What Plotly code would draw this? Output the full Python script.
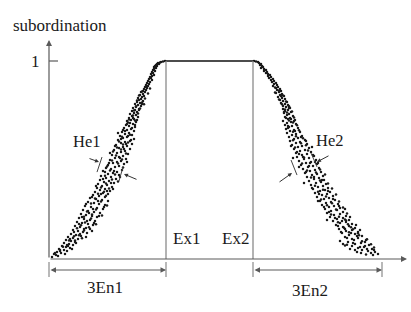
import plotly.graph_objects as go

# ---- data (x in abstract units, membership "subordination" in 0..1) ----
EX1, EX2 = 117, 204          # expectations
EN1, EN2 = 39, 43            # entropies (3En marked below the axis)

left_drops = [
    (116, 1.000), (114, 0.997), (112, 0.995), (111, 0.992), (109, 0.990), (110, 0.985), (108, 0.985),
    (107, 0.980), (108, 0.975), (106, 0.975), (105, 0.970), (107, 0.965), (105, 0.960), (104, 0.955),
    (106, 0.949), (103, 0.944), (104, 0.939), (102, 0.934), (105, 0.929), (103, 0.924), (101, 0.919),
    (102, 0.914), (100, 0.909), (103, 0.904), (99, 0.899), (101, 0.894), (98, 0.889), (100, 0.884),
    (97, 0.879), (99, 0.874), (96, 0.869), (98, 0.864), (95, 0.859), (97, 0.854), (94, 0.848),
    (96, 0.843), (92, 0.843), (94, 0.833), (91, 0.828), (95, 0.823), (93, 0.818), (89, 0.813),
    (92, 0.808), (90, 0.803), (94, 0.798), (88, 0.793), (91, 0.788), (86, 0.783), (89, 0.778),
    (92, 0.773), (87, 0.768), (84, 0.763), (90, 0.758), (86, 0.753), (83, 0.747), (88, 0.742),
    (85, 0.737), (81, 0.732), (87, 0.727), (83, 0.722), (89, 0.717), (80, 0.712), (85, 0.707),
    (82, 0.702), (78, 0.697), (87, 0.692), (81, 0.687), (84, 0.682), (77, 0.677), (80, 0.672),
    (86, 0.667), (75, 0.662), (82, 0.657), (78, 0.652), (85, 0.646), (73, 0.641), (80, 0.636),
    (76, 0.631), (83, 0.626), (71, 0.621), (78, 0.616), (74, 0.611), (85, 0.606), (69, 0.601),
    (81, 0.596), (76, 0.591), (72, 0.586), (83, 0.581), (67, 0.576), (78, 0.571), (74, 0.566),
    (70, 0.561), (81, 0.556), (65, 0.551), (76, 0.545), (72, 0.540), (68, 0.535), (79, 0.530),
    (63, 0.525), (74, 0.520), (70, 0.515), (66, 0.510), (77, 0.505), (61, 0.500), (72, 0.495),
    (68, 0.490), (64, 0.485), (75, 0.480), (59, 0.475), (70, 0.470), (66, 0.465), (57, 0.460),
    (62, 0.455), (73, 0.449), (54, 0.444), (68, 0.439), (64, 0.434), (59, 0.429), (70, 0.424),
    (52, 0.419), (62, 0.414), (57, 0.409), (67, 0.404), (51, 0.399), (60, 0.394), (55, 0.389),
    (65, 0.384), (49, 0.379), (58, 0.374), (53, 0.369), (63, 0.364), (48, 0.359), (56, 0.354),
    (51, 0.348), (61, 0.343), (46, 0.338), (54, 0.333), (59, 0.328), (44, 0.323), (50, 0.318),
    (56, 0.313), (41, 0.308), (47, 0.303), (53, 0.298), (59, 0.293), (39, 0.288), (45, 0.283),
    (50, 0.278), (56, 0.273), (36, 0.268), (42, 0.263), (48, 0.258), (54, 0.253), (34, 0.247),
    (39, 0.242), (45, 0.237), (51, 0.232), (32, 0.227), (37, 0.222), (43, 0.217), (48, 0.212),
    (30, 0.207), (35, 0.202), (41, 0.197), (46, 0.192), (28, 0.187), (33, 0.182), (39, 0.177),
    (44, 0.172), (26, 0.167), (31, 0.162), (37, 0.157), (41, 0.152), (24, 0.146), (29, 0.141),
    (34, 0.136), (38, 0.131), (22, 0.126), (27, 0.121), (32, 0.116), (19, 0.111), (24, 0.106),
    (29, 0.101), (17, 0.096), (22, 0.091), (26, 0.086), (15, 0.081), (20, 0.076), (24, 0.071),
    (13, 0.066), (17, 0.061), (21, 0.056), (10, 0.051), (15, 0.045), (8, 0.035), (12, 0.030),
    (18, 0.040), (5, 0.025), (9, 0.015), (3, 0.010),
    (69, 0.636), (79, 0.621), (72, 0.606), (66, 0.571), (75, 0.556), (61, 0.535), (71, 0.510),
    (78, 0.490), (60, 0.485), (65, 0.444), (56, 0.439), (71, 0.414), (54, 0.404), (62, 0.384),
    (47, 0.369), (58, 0.343), (52, 0.328), (64, 0.354), (43, 0.313), (49, 0.293), (37, 0.278),
    (55, 0.263), (44, 0.253), (40, 0.232), (50, 0.217), (33, 0.212), (38, 0.192), (45, 0.182),
    (30, 0.177), (35, 0.152), (43, 0.141), (25, 0.136), (31, 0.126), (37, 0.111), (21, 0.101),
    (27, 0.081), (18, 0.071), (23, 0.051), (11, 0.040), (6, 0.030), (16, 0.025), (84, 0.712),
    (78, 0.682), (88, 0.702), (74, 0.652), (82, 0.601), (90, 0.753), (93, 0.783), (86, 0.677),
    (77, 0.581),
    (97, 0.871), (101, 0.861), (93, 0.846), (99, 0.836), (90, 0.826), (96, 0.811), (88, 0.801),
    (93, 0.791), (95, 0.781), (87, 0.771), (91, 0.760), (85, 0.750), (89, 0.735), (84, 0.725),
    (80, 0.704), (86, 0.699), (79, 0.689), (83, 0.662), (76, 0.646), (81, 0.628), (73, 0.618),
    (70, 0.593), (79, 0.588), (74, 0.578), (68, 0.563), (72, 0.553), (64, 0.543), (77, 0.533),
    (67, 0.523), (73, 0.503), (63, 0.497), (69, 0.482), (58, 0.467), (74, 0.462), (61, 0.447),
    (66, 0.427), (56, 0.421), (63, 0.402), (69, 0.391), (57, 0.381), (52, 0.361), (60, 0.356),
    (55, 0.340), (49, 0.330), (57, 0.320), (46, 0.305), (52, 0.290), (42, 0.280), (58, 0.270),
    (47, 0.250), (38, 0.240), (43, 0.225), (53, 0.220), (35, 0.214), (42, 0.205), (36, 0.184),
    (47, 0.176), (32, 0.170), (40, 0.160), (28, 0.155), (35, 0.144), (30, 0.120), (25, 0.115),
    (33, 0.105), (20, 0.093), (26, 0.094), (14, 0.062), (19, 0.066), (11, 0.046), (7, 0.020),
]

right_drops = [
    (205, 1.000), (207, 0.997), (209, 0.995), (210, 0.990), (212, 0.985), (211, 0.980), (213, 0.975),
    (214, 0.970), (212, 0.965), (215, 0.960), (217, 0.955), (215, 0.949), (218, 0.944), (217, 0.939),
    (219, 0.934), (221, 0.929), (219, 0.924), (222, 0.919), (220, 0.914), (224, 0.909), (222, 0.904),
    (225, 0.899), (223, 0.894), (227, 0.889), (225, 0.884), (228, 0.879), (224, 0.874), (229, 0.869),
    (227, 0.864), (231, 0.859), (228, 0.854), (232, 0.848), (230, 0.843), (227, 0.838), (233, 0.833),
    (231, 0.828), (235, 0.823), (229, 0.818), (233, 0.813), (236, 0.808), (231, 0.803), (234, 0.798),
    (238, 0.793), (232, 0.788), (236, 0.783), (239, 0.778), (234, 0.773), (237, 0.768), (241, 0.763),
    (234, 0.758), (239, 0.753), (236, 0.747), (242, 0.742), (235, 0.737), (240, 0.732), (238, 0.727),
    (244, 0.722), (236, 0.717), (241, 0.712), (239, 0.707), (246, 0.702), (234, 0.697), (242, 0.692),
    (238, 0.687), (247, 0.682), (236, 0.677), (243, 0.672), (240, 0.667), (249, 0.662), (237, 0.657),
    (245, 0.652), (241, 0.646), (251, 0.641), (238, 0.636), (247, 0.631), (243, 0.626), (253, 0.621),
    (240, 0.616), (249, 0.611), (245, 0.606), (256, 0.601), (241, 0.596), (251, 0.591), (247, 0.586),
    (258, 0.581), (243, 0.576), (253, 0.571), (249, 0.566), (260, 0.561), (245, 0.556), (256, 0.551),
    (251, 0.545), (262, 0.540), (247, 0.535), (258, 0.530), (253, 0.525), (265, 0.520), (248, 0.515),
    (260, 0.510), (255, 0.505), (267, 0.500), (250, 0.495), (262, 0.490), (257, 0.485), (268, 0.480),
    (252, 0.475), (264, 0.470), (259, 0.465), (270, 0.460), (254, 0.455), (266, 0.449), (261, 0.444),
    (272, 0.439), (256, 0.434), (268, 0.429), (263, 0.424), (274, 0.419), (258, 0.414), (270, 0.409),
    (265, 0.404), (275, 0.399), (260, 0.394), (272, 0.389), (267, 0.384), (277, 0.379), (262, 0.374),
    (274, 0.369), (269, 0.364), (279, 0.359), (264, 0.354), (276, 0.348), (271, 0.343), (281, 0.338),
    (266, 0.333), (278, 0.328), (273, 0.323), (284, 0.318), (268, 0.313), (280, 0.308), (275, 0.303),
    (286, 0.298), (271, 0.293), (282, 0.288), (277, 0.283), (289, 0.278), (273, 0.273), (285, 0.268),
    (280, 0.263), (291, 0.258), (276, 0.253), (288, 0.247), (282, 0.242), (294, 0.237), (278, 0.232),
    (291, 0.227), (285, 0.222), (297, 0.217), (281, 0.212), (294, 0.207), (288, 0.202), (300, 0.197),
    (284, 0.192), (297, 0.187), (291, 0.182), (303, 0.177), (287, 0.172), (300, 0.167), (294, 0.162),
    (306, 0.157), (290, 0.152), (303, 0.146), (297, 0.141), (309, 0.136), (293, 0.131), (306, 0.126),
    (300, 0.121), (313, 0.116), (296, 0.111), (309, 0.106), (303, 0.101), (317, 0.096), (291, 0.091),
    (299, 0.086), (312, 0.081), (306, 0.076), (320, 0.071), (296, 0.068), (303, 0.066), (315, 0.061),
    (309, 0.056), (323, 0.051), (313, 0.045), (319, 0.040), (326, 0.035), (308, 0.035), (322, 0.030),
    (329, 0.025), (317, 0.023),
    (246, 0.646), (252, 0.616), (242, 0.571), (257, 0.596), (248, 0.540), (263, 0.566), (254, 0.515),
    (244, 0.510), (261, 0.485), (250, 0.465), (269, 0.485), (257, 0.439), (265, 0.414), (255, 0.384),
    (273, 0.399), (263, 0.359), (270, 0.328), (279, 0.343), (269, 0.293), (284, 0.303), (275, 0.263),
    (290, 0.268), (280, 0.237), (296, 0.253), (286, 0.207), (278, 0.197), (293, 0.192), (301, 0.212),
    (289, 0.167), (296, 0.152), (307, 0.172), (292, 0.136), (302, 0.131), (311, 0.146), (298, 0.106),
    (308, 0.116), (316, 0.086), (304, 0.081), (294, 0.076), (311, 0.061), (318, 0.051), (325, 0.045),
    (301, 0.051), (239, 0.672), (242, 0.707), (237, 0.712), (245, 0.697), (235, 0.742), (240, 0.763),
    (232, 0.823),
    (226, 0.866), (230, 0.851), (226, 0.841), (234, 0.826), (230, 0.806), (237, 0.796), (233, 0.781),
    (240, 0.771), (236, 0.755), (243, 0.745), (238, 0.740), (245, 0.715), (240, 0.700), (244, 0.690),
    (248, 0.675), (239, 0.662), (250, 0.650), (244, 0.643), (247, 0.620), (254, 0.610), (244, 0.600),
    (252, 0.584), (257, 0.574), (246, 0.563), (259, 0.548), (250, 0.530), (264, 0.525), (255, 0.512),
    (266, 0.490), (253, 0.482), (260, 0.470), (271, 0.452), (258, 0.447), (267, 0.437), (276, 0.427),
    (262, 0.412), (271, 0.396), (279, 0.381), (266, 0.370), (283, 0.356), (274, 0.350), (269, 0.340),
    (287, 0.326), (277, 0.316), (272, 0.300), (290, 0.291), (283, 0.281), (278, 0.271), (294, 0.260),
    (287, 0.250), (282, 0.225), (298, 0.230), (290, 0.214), (296, 0.200), (297, 0.195), (289, 0.185),
    (299, 0.175), (302, 0.160), (295, 0.158), (304, 0.150), (309, 0.130), (300, 0.135), (310, 0.120),
    (318, 0.100), (305, 0.096), (313, 0.090), (322, 0.075), (298, 0.072), (316, 0.066), (325, 0.058),
    (306, 0.045), (312, 0.030), (324, 0.020),
]

# labels
y_title = "subordination"
y_tick_label = "1"
he_labels = ["He1", "He2"]
ex_labels = ["Ex1", "Ex2"]
en_labels = ["3En1", "3En2"]

# ---- figure ----
SERIF = "Liberation Serif, Times New Roman, serif"
AX_COL = "#5a5a5a"
EX_COL = "#8a8a8a"
DOT_COL = "#1a1a1a"

fig = go.Figure()

for drops in (left_drops, right_drops):
    fig.add_trace(go.Scatter(
        x=[d[0] for d in drops], y=[d[1] for d in drops], mode="markers",
        marker=dict(size=2.5, color=DOT_COL, line=dict(width=0)),
        hoverinfo="skip", showlegend=False))

# flat top of the membership curve between Ex1 and Ex2
fig.add_trace(go.Scatter(x=[EX1, EX2], y=[1, 1], mode="lines",
                         line=dict(color="#111", width=1.5), hoverinfo="skip", showlegend=False))

shapes = []
# vertical lines at Ex1 and Ex2
for ex in (EX1, EX2):
    shapes.append(dict(type="line", xref="x", yref="y", x0=ex, x1=ex, y0=0, y1=1,
                       line=dict(color=EX_COL, width=1.3)))
# tick at 1
shapes.append(dict(type="line", xref="x", yref="y", x0=0, x1=9, y0=1, y1=1,
                   line=dict(color=AX_COL, width=1.2)))
# dimension ticks under the axis
for xt in (0, EX1, EX2, EX2 + 3 * EN2):
    shapes.append(dict(type="line", xref="x", yref="y", x0=xt, x1=xt, y0=-0.015, y1=-0.091,
                       line=dict(color=EX_COL, width=1.2)))
# He brackets
brackets = [((53, 0.515), (48, 0.439)), ((74, 0.465), (70, 0.394)),
            ((242, 0.500), (248, 0.424)), ((262, 0.535), (268, 0.465))]
for (a, b) in brackets:
    shapes.append(dict(type="line", xref="x", yref="y", x0=a[0], y0=a[1], x1=b[0], y1=b[1],
                       line=dict(color="#444", width=1)))

ann = []
def arrow(head, tail, both=False, size=1.0, width=1.2, color=AX_COL):
    d = dict(x=head[0], y=head[1], ax=tail[0], ay=tail[1], xref="x", yref="y",
             axref="x", ayref="y", text="", showarrow=True, arrowhead=2,
             arrowsize=size, arrowwidth=width, arrowcolor=color, standoff=0, startstandoff=0)
    if both:
        d.update(arrowside="end+start", startarrowhead=2, startarrowsize=size)
    ann.append(d)

# axes
arrow((0, 1.106), (0, 0))
arrow((358, 0), (0, 0))
# 3En dimension arrows
arrow((EX1, -0.0556), (0, -0.0556), both=True, size=1.0, width=1.1)
arrow((EX2 + 3 * EN2, -0.0556), (EX2, -0.0556), both=True, size=1.0, width=1.1)
# He pointer arrows
arrow((50, 0.490), (39, 0.510), size=0.8, width=1.0, color="#333")
arrow((75, 0.429), (89, 0.399), size=0.8, width=1.0, color="#333")
arrow((243, 0.434), (229, 0.384), size=0.8, width=1.0, color="#333")
arrow((268, 0.490), (281, 0.525), size=0.8, width=1.0, color="#333")

def label(txt, x, y, size=17):
    ann.append(dict(x=x, y=y, xref="x", yref="y", text=txt, showarrow=False,
                    xanchor="center", yanchor="middle",
                    font=dict(family=SERIF, size=size, color="#1a1a1a")))

label(y_title, 10.5, 1.177, 17)
label(y_tick_label, -14, 1.0, 17)
label(he_labels[0], 37.5, 0.593, 16.5)
label(he_labels[1], 281, 0.601, 16.5)
label(ex_labels[0], 137, 0.104, 17)
label(ex_labels[1], 186, 0.104, 17)
label(en_labels[0], 56, -0.144, 17)
label(en_labels[1], 261, -0.159, 17)

fig.update_layout(
    width=411, height=312, margin=dict(l=0, r=0, t=0, b=0),
    paper_bgcolor="white", plot_bgcolor="white", showlegend=False,
    xaxis=dict(range=[-49, 362], visible=False, fixedrange=True),
    yaxis=dict(range=[-53 / 198, 259 / 198], visible=False, fixedrange=True),
    shapes=shapes, annotations=ann,
)

fig.write_html("out.html", config={"displayModeBar": False},
               post_script="document.body.style.margin='0';document.body.style.padding='0';")
